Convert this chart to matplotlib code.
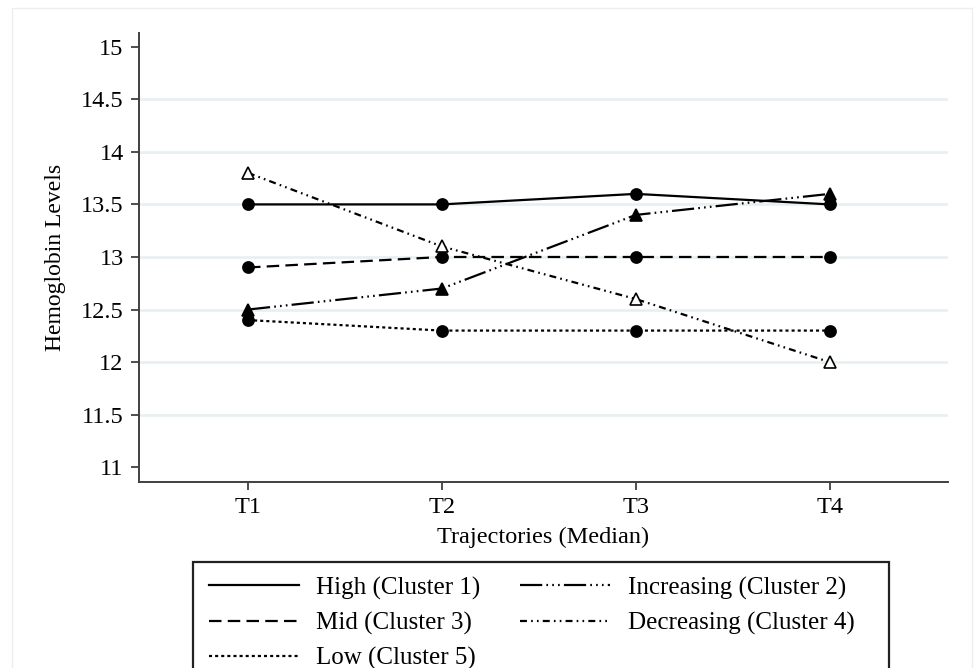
import matplotlib
matplotlib.use("Agg")
import matplotlib.pyplot as plt
from matplotlib.lines import Line2D
from matplotlib.patches import Rectangle

# ==========================================================
#                       DONNEES
# ==========================================================
times = ["T1", "T2", "T3", "T4"]

high = [13.5, 13.5, 13.6, 13.5]
increasing = [12.5, 12.7, 13.4, 13.6]
mid = [12.9, 13.0, 13.0, 13.0]
decreasing = [13.8, 13.1, 12.6, 12.0]
low = [12.4, 12.3, 12.3, 12.3]

labels = ["High (Cluster 1)", "Increasing (Cluster 2)", "Mid (Cluster 3)",
          "Decreasing (Cluster 4)", "Low (Cluster 5)"]

yticks = [11, 11.5, 12, 12.5, 13, 13.5, 14, 14.5, 15]

# ==========================================================
#                       STYLE
# ==========================================================
plt.rcParams["font.family"] = ["Liberation Serif", "DejaVu Serif"]
plt.rcParams["lines.scale_dashes"] = False

W, H = 974, 668
fig = plt.figure(figsize=(W / 100, H / 100), dpi=100)
ax = fig.add_axes([139 / W, 1 - 482 / H, (948 - 139) / W, (482 - 33) / H])

x = list(range(1, len(times) + 1))
lw = 1.6
ms = 8

styles = [
    (high, dict(linestyle="-", marker="o", mfc="black")),
    (increasing, dict(linestyle=(0, (16, 3, 1.2, 3, 1.2, 3, 1.2, 3)), marker="^", mfc="black")),
    (mid, dict(linestyle=(0, (9, 4.5)), marker="o", mfc="black")),
    (decreasing, dict(linestyle=(0, (5, 3, 1.2, 3, 1.2, 3)), marker="^", mfc="white")),
    (low, dict(linestyle=(0, (2.2, 2.2)), marker="o", mfc="black")),
]

handles = {}
for (vals, st), lab in zip(styles, labels):
    ax.plot(x, vals, color="black", lw=lw, ms=ms, mec="black", mew=1.2, **st)
    handles[lab] = Line2D([0], [0], color="black", lw=lw, linestyle=st["linestyle"], label=lab)

# grille horizontale (ticks interieurs)
for yv in yticks[1:-1]:
    ax.axhline(yv, color="#e6eff1", lw=1.8, zorder=0)

ax.set_xlim(0.438, 4.61)
ax.set_ylim(10.86, 15.13)
ax.set_xticks(x)
ax.set_xticklabels(times)
ax.set_yticks(yticks)
ax.set_yticklabels([f"{v:g}" for v in yticks])

for s in ["top", "right"]:
    ax.spines[s].set_visible(False)
for s in ["left", "bottom"]:
    ax.spines[s].set_color("#404040")
    ax.spines[s].set_linewidth(1.4)
ax.tick_params(direction="out", length=6, width=1.3, color="#404040", labelsize=17.5, pad=5)

ax.set_xlabel("Trajectories (Median)", fontsize=17.5, labelpad=6)
ax.set_ylabel("Hemoglobin Levels", fontsize=17, labelpad=11)

# ==========================================================
#                       LEGENDE
# ==========================================================
fig.patches.append(Rectangle((193 / W, -0.1), (889 - 193) / W, 0.1 + 1 - 562 / H,
                             transform=fig.transFigure, fill=False,
                             edgecolor="#222222", lw=1.6))
order = [labels[0], labels[2], labels[4], labels[1], labels[3]]
fig.legend(handles=[handles[l] for l in order], loc="upper left",
           bbox_to_anchor=(191 / W, 1 - 559 / H),
           ncol=2, frameon=False, fontsize=18, handlelength=3.6, handletextpad=0.7,
           columnspacing=1.6, labelspacing=0.48, borderpad=0.2)

# cadre exterieur tres clair
fig.patches.append(Rectangle((12 / W, -0.1), (972 - 12) / W, 0.1 + 1 - 8 / H,
                             transform=fig.transFigure, fill=False,
                             edgecolor="#eeeeee", lw=1.0))

fig.savefig("out.png", dpi=100)
